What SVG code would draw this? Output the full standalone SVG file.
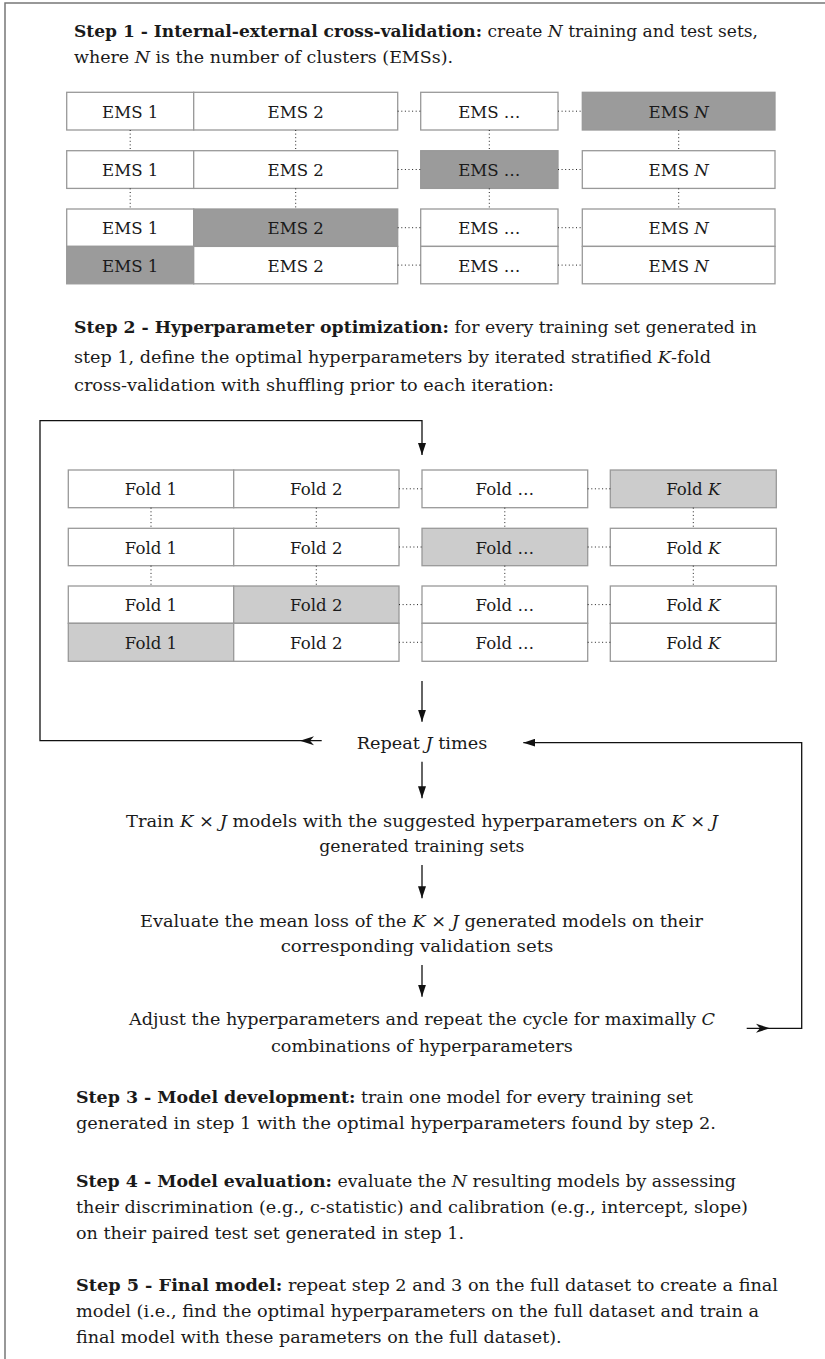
<svg xmlns="http://www.w3.org/2000/svg" width="825" height="1359" viewBox="0 0 825 1359">
<style>
.t{font-family:"DejaVu Serif","Liberation Serif",serif;font-size:16px;fill:#1a1a1a}
.l{font-size:16.6px}
.b{font-weight:bold}
.i{font-style:italic}
.c{text-anchor:middle}
.box{stroke:#999;stroke-width:1.3;fill:#fff}
.dk{fill:#9b9b9b}
.lt{fill:#cccccc}
.dot{stroke:#222;stroke-width:1;stroke-dasharray:1 2.6;fill:none}
.ln{stroke:#111;stroke-width:1.3;fill:none}
.frame{stroke:#777;stroke-width:1.5;fill:none}
</style>
<defs>
<marker id="ah" viewBox="0 0 12 8" refX="12" refY="4" markerWidth="12" markerHeight="8" markerUnits="userSpaceOnUse" orient="auto">
<path d="M0,0 L12,4 L0,8 z" fill="#111"/>
</marker>
</defs>
<rect class="frame" x="5" y="3" width="840" height="1380"/>

<g id="step1-text">
<text class="t" x="74" y="37" textLength="684" lengthAdjust="spacingAndGlyphs"><tspan class="b">Step 1 - Internal-external cross-validation:</tspan> create <tspan class="i">N</tspan> training and test sets,</text>
<text class="t" x="74" y="63" textLength="379" lengthAdjust="spacingAndGlyphs">where <tspan class="i">N</tspan> is the number of clusters (EMSs).</text>
</g>

<g id="ems-grid">
<g id="ems-r1">
<rect class="box" x="66.7" y="92.3" width="127" height="37.7"/>
<rect class="box" x="193.7" y="92.3" width="204" height="37.7"/>
<rect class="box" x="420.7" y="92.3" width="137.3" height="37.7"/>
<rect class="box dk" x="582.3" y="92.3" width="192.7" height="37.7"/>
<text class="t l c" x="130.2" y="117.7">EMS 1</text>
<text class="t l c" x="295.7" y="117.7">EMS 2</text>
<text class="t l c" x="489.3" y="117.7">EMS …</text>
<text class="t l c" x="678.7" y="117.7">EMS <tspan class="i">N</tspan></text>
</g>
<g id="ems-r2">
<rect class="box" x="66.7" y="150.7" width="127" height="37.7"/>
<rect class="box" x="193.7" y="150.7" width="204" height="37.7"/>
<rect class="box dk" x="420.7" y="150.7" width="137.3" height="37.7"/>
<rect class="box" x="582.3" y="150.7" width="192.7" height="37.7"/>
<text class="t l c" x="130.2" y="176">EMS 1</text>
<text class="t l c" x="295.7" y="176">EMS 2</text>
<text class="t l c" x="489.3" y="176">EMS …</text>
<text class="t l c" x="678.7" y="176">EMS <tspan class="i">N</tspan></text>
</g>
<g id="ems-r3">
<rect class="box" x="66.7" y="209" width="127" height="37.4"/>
<rect class="box dk" x="193.7" y="209" width="204" height="37.4"/>
<rect class="box" x="420.7" y="209" width="137.3" height="37.4"/>
<rect class="box" x="582.3" y="209" width="192.7" height="37.4"/>
<text class="t l c" x="130.2" y="234.2">EMS 1</text>
<text class="t l c" x="295.7" y="234.2">EMS 2</text>
<text class="t l c" x="489.3" y="234.2">EMS …</text>
<text class="t l c" x="678.7" y="234.2">EMS <tspan class="i">N</tspan></text>
</g>
<g id="ems-r4">
<rect class="box dk" x="66.7" y="246.4" width="127" height="37.4"/>
<rect class="box" x="193.7" y="246.4" width="204" height="37.4"/>
<rect class="box" x="420.7" y="246.4" width="137.3" height="37.4"/>
<rect class="box" x="582.3" y="246.4" width="192.7" height="37.4"/>
<text class="t l c" x="130.2" y="271.6">EMS 1</text>
<text class="t l c" x="295.7" y="271.6">EMS 2</text>
<text class="t l c" x="489.3" y="271.6">EMS …</text>
<text class="t l c" x="678.7" y="271.6">EMS <tspan class="i">N</tspan></text>
</g>
</g>

<g id="step2-text">
<text class="t" x="74" y="333" textLength="683" lengthAdjust="spacingAndGlyphs"><tspan class="b">Step 2 - Hyperparameter optimization:</tspan> for every training set generated in</text>
<text class="t" x="74" y="362.5" textLength="637" lengthAdjust="spacingAndGlyphs">step 1, define the optimal hyperparameters by iterated stratified <tspan class="i">K</tspan>-fold</text>
<text class="t" x="74" y="391" textLength="480" lengthAdjust="spacingAndGlyphs">cross-validation with shuffling prior to each iteration:</text>
</g>

<g id="fold-grid">
<g id="fold-r1">
<rect class="box" x="68.3" y="470" width="165.4" height="37.7"/>
<rect class="box" x="233.7" y="470" width="165.3" height="37.7"/>
<rect class="box" x="422" y="470" width="165.7" height="37.7"/>
<rect class="box lt" x="610.3" y="470" width="166" height="37.7"/>
<text class="t l c" x="151" y="495.4">Fold 1</text>
<text class="t l c" x="316.3" y="495.4">Fold 2</text>
<text class="t l c" x="504.8" y="495.4">Fold …</text>
<text class="t l c" x="693.3" y="495.4">Fold <tspan class="i">K</tspan></text>
</g>
<g id="fold-r2">
<rect class="box" x="68.3" y="528.3" width="165.4" height="37.4"/>
<rect class="box" x="233.7" y="528.3" width="165.3" height="37.4"/>
<rect class="box lt" x="422" y="528.3" width="165.7" height="37.4"/>
<rect class="box" x="610.3" y="528.3" width="166" height="37.4"/>
<text class="t l c" x="151" y="553.6">Fold 1</text>
<text class="t l c" x="316.3" y="553.6">Fold 2</text>
<text class="t l c" x="504.8" y="553.6">Fold …</text>
<text class="t l c" x="693.3" y="553.6">Fold <tspan class="i">K</tspan></text>
</g>
<g id="fold-r3">
<rect class="box" x="68.3" y="586" width="165.4" height="37.3"/>
<rect class="box lt" x="233.7" y="586" width="165.3" height="37.3"/>
<rect class="box" x="422" y="586" width="165.7" height="37.3"/>
<rect class="box" x="610.3" y="586" width="166" height="37.3"/>
<text class="t l c" x="151" y="611.2">Fold 1</text>
<text class="t l c" x="316.3" y="611.2">Fold 2</text>
<text class="t l c" x="504.8" y="611.2">Fold …</text>
<text class="t l c" x="693.3" y="611.2">Fold <tspan class="i">K</tspan></text>
</g>
<g id="fold-r4">
<rect class="box lt" x="68.3" y="623.3" width="165.4" height="38"/>
<rect class="box" x="233.7" y="623.3" width="165.3" height="38"/>
<rect class="box" x="422" y="623.3" width="165.7" height="38"/>
<rect class="box" x="610.3" y="623.3" width="166" height="38"/>
<text class="t l c" x="151" y="648.8">Fold 1</text>
<text class="t l c" x="316.3" y="648.8">Fold 2</text>
<text class="t l c" x="504.8" y="648.8">Fold …</text>
<text class="t l c" x="693.3" y="648.8">Fold <tspan class="i">K</tspan></text>
</g>
</g>

<g id="repeat-j"><text class="t" x="356.7" y="749" textLength="130.6" lengthAdjust="spacingAndGlyphs">Repeat <tspan class="i">J</tspan> times</text></g>
<g id="train">
<text class="t" x="126" y="826.7" textLength="592" lengthAdjust="spacingAndGlyphs">Train <tspan class="i">K</tspan> × <tspan class="i">J</tspan> models with the suggested hyperparameters on <tspan class="i">K</tspan> × <tspan class="i">J</tspan></text>
<text class="t" x="319.3" y="851.7" textLength="205" lengthAdjust="spacingAndGlyphs">generated training sets</text>
</g>
<g id="evaluate">
<text class="t" x="140" y="926.7" textLength="563" lengthAdjust="spacingAndGlyphs">Evaluate the mean loss of the <tspan class="i">K</tspan> × <tspan class="i">J</tspan> generated models on their</text>
<text class="t" x="280.7" y="951.7" textLength="272.6" lengthAdjust="spacingAndGlyphs">corresponding validation sets</text>
</g>
<g id="adjust">
<text class="t" x="129" y="1025" textLength="586" lengthAdjust="spacingAndGlyphs">Adjust the hyperparameters and repeat the cycle for maximally <tspan class="i">C</tspan></text>
<text class="t" x="271" y="1051.7" textLength="301.7" lengthAdjust="spacingAndGlyphs">combinations of hyperparameters</text>
</g>

<g id="step3-5-text">
<text class="t" x="76" y="1103" textLength="617" lengthAdjust="spacingAndGlyphs"><tspan class="b">Step 3 - Model development:</tspan> train one model for every training set</text>
<text class="t" x="76" y="1129" textLength="640" lengthAdjust="spacingAndGlyphs">generated in step 1 with the optimal hyperparameters found by step 2.</text>
<text class="t" x="76" y="1187" textLength="660" lengthAdjust="spacingAndGlyphs"><tspan class="b">Step 4 - Model evaluation:</tspan> evaluate the <tspan class="i">N</tspan> resulting models by assessing</text>
<text class="t" x="76" y="1213" textLength="672" lengthAdjust="spacingAndGlyphs">their discrimination (e.g., c-statistic) and calibration (e.g., intercept, slope)</text>
<text class="t" x="76" y="1239" textLength="388" lengthAdjust="spacingAndGlyphs">on their paired test set generated in step 1.</text>
<text class="t" x="76" y="1291" textLength="702" lengthAdjust="spacingAndGlyphs"><tspan class="b">Step 5 - Final model:</tspan> repeat step 2 and 3 on the full dataset to create a final</text>
<text class="t" x="76" y="1317" textLength="683" lengthAdjust="spacingAndGlyphs">model (i.e., find the optimal hyperparameters on the full dataset and train a</text>
<text class="t" x="76" y="1343" textLength="485.7" lengthAdjust="spacingAndGlyphs">final model with these parameters on the full dataset).</text>
</g>

<g id="connectors">
<path class="dot" d="M397.7,111.2H420.7M558,111.2H582.3M397.7,169.5H420.7M558,169.5H582.3M397.7,227.7H420.7M558,227.7H582.3M397.7,265.1H420.7M558,265.1H582.3"/>
<path class="dot" d="M130.2,130V150.7M295.7,130V150.7M489.3,130V150.7M678.7,130V150.7M130.2,188.4V209M295.7,188.4V209M489.3,188.4V209M678.7,188.4V209"/>
<path class="dot" d="M399,488.8H422M587.7,488.8H610.3M399,547H422M587.7,547H610.3M399,604.6H422M587.7,604.6H610.3M399,642.3H422M587.7,642.3H610.3"/>
<path class="dot" d="M151,507.7V528.3M316.3,507.7V528.3M504.8,507.7V528.3M693.3,507.7V528.3M151,565.7V586M316.3,565.7V586M504.8,565.7V586M693.3,565.7V586"/>
<path class="ln" d="M321.7,740.7H40V420.7H422V455" marker-end="url(#ah)"/>
<path d="M300,740.7L314,736.2L310,740.7L314,745.2z" fill="#111"/>
<path class="ln" d="M422,681V721.7" marker-end="url(#ah)"/>
<path class="ln" d="M422,761.7V798.3" marker-end="url(#ah)"/>
<path class="ln" d="M422,865V898.3" marker-end="url(#ah)"/>
<path class="ln" d="M422,965V996.7" marker-end="url(#ah)"/>
<path class="ln" d="M746.7,1028.3H801.7V742.7H523.3" marker-end="url(#ah)"/>
<path d="M770,1028.3L756,1023.8L760,1028.3L756,1032.8z" fill="#111"/>
</g>
</svg>
